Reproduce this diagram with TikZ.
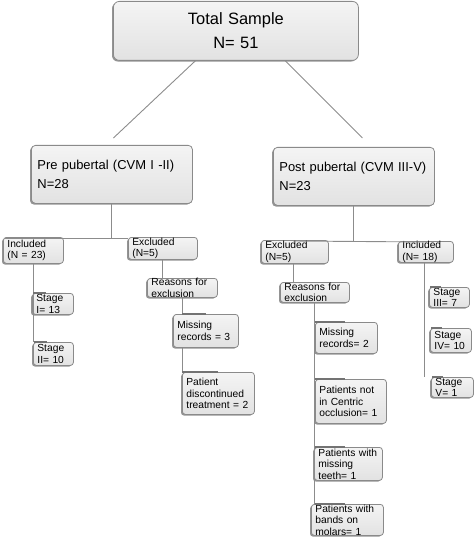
\documentclass[tikz,border=0pt]{standalone}
\usepackage{fontspec}
\setmainfont{Liberation Sans}
\usetikzlibrary{shadows}
\definecolor{boxtop}{HTML}{F4F4F4}
\definecolor{boxfill}{HTML}{E2E2E2}
\definecolor{boxline}{HTML}{8A8A8A}
\definecolor{wire}{HTML}{8C8C8C}
\begin{document}
\begin{tikzpicture}[x=1bp,y=-1bp,
		box/.style={draw=boxline, top color=boxtop, bottom color=boxfill, rounded corners=3bp, anchor=north west, align=left, inner xsep=4bp, inner ysep=0pt, line width=0.8bp, drop shadow={shadow xshift=-1.4bp, shadow yshift=-1.2bp, opacity=0.6, fill=black!70}},
		small/.style={box, font=\fontsize{10.3}{11.5}\selectfont},
		mid/.style={box, rounded corners=4bp, inner xsep=6bp, font=\fontsize{13}{19}\selectfont},
		wire/.style={draw=wire, line width=0.9bp},
		tip/.style={draw=black!55, line width=1.2bp}]
	\useasboundingbox (0,0) rectangle (474,539);
	\node[box, rounded corners=6bp, align=center, text width=237bp, minimum height=59bp, font=\fontsize{16.5}{24}\selectfont] (total) at (113,1) {Total Sample\\N= 51};
	\node[mid, text width=149bp, minimum height=58bp] (pre) at (31,145) {Pre pubertal (CVM I -II)\\N=28};
	\node[mid, text width=149bp, minimum height=58bp] (post) at (273,147) {Post pubertal (CVM III-V)\\N=23};
	\draw[wire] ([xshift=-40.5bp]total.south) -- ([xshift=1.5bp,yshift=7bp]pre.north);
	\draw[wire] ([xshift=49.5bp]total.south) -- ([xshift=8.5bp,yshift=9bp]post.north);

	\node[small, text width=52bp, minimum height=26bp] (inc1) at (3,237) {Included\\(N = 23)};
	\node[small, text width=61bp, minimum height=22bp] (exc1) at (128,237) {Excluded\\(N=5)};
	\node[small, text width=33bp, minimum height=21bp] (st1) at (32,293) {Stage\\I= 13};
	\node[small, text width=32bp, minimum height=23bp] (st2) at (33,342) {Stage\\II= 10};
	\node[small, text width=62bp, minimum height=19bp] (rea1) at (147,278) {Reasons for\\exclusion};
	\node[small, text width=57bp, minimum height=33bp] (mis1) at (173,314) {Missing\\records = 3};
	\node[small, text width=64bp, minimum height=42bp] (dis1) at (182,372) {Patient\\discontinued\\treatment = 2};

	\node[small, text width=59bp, minimum height=23bp] (exc2) at (261,240) {Excluded\\(N=5)};
	\node[small, text width=47bp, minimum height=18bp] (inc2) at (398,241) {Included\\(N= 18)};
	\node[small, text width=61bp, minimum height=20bp] (rea2) at (280,282) {Reasons for\\exclusion};
	\node[small, text width=54bp, minimum height=31bp] (mis2) at (315,322) {Missing\\records= 2};
	\node[small, text width=63bp, minimum height=44bp] (cen2) at (315,379) {Patients not\\in Centric\\occlusion= 1};
	\node[small, text width=60bp, minimum height=33bp] (tee2) at (314,447) {Patients with\\missing\\teeth= 1};
	\node[small, text width=64bp, minimum height=31bp] (mol2) at (311,504) {Patients with\\bands on\\molars= 1};
	\node[small, text width=32bp, minimum height=20bp] (st3) at (429,287) {Stage\\III= 7};
	\node[small, text width=33bp, minimum height=24bp] (st4) at (430,328) {Stage\\IV= 10};
	\node[small, text width=34bp, minimum height=20bp] (st5) at (431,377) {Stage\\V= 1};

	\draw[wire] (pre.south) -- ([yshift=-1bp]pre.south |- exc1.north);
	\draw[wire] ([xshift=2bp,yshift=-1bp]inc1.north west) -- ([yshift=-1bp]exc1.north west);
	\draw[wire] (post.south) -- ([yshift=-1bp]post.south |- exc2.north);
	\draw[wire] ([xshift=32bp,yshift=-1bp]exc2.north west) -- ([yshift=-1bp]inc2.north);

	\draw[wire] ([xshift=30bp]inc1.south west) -- ([xshift=30bp]inc1.south west |- st2.north);
	\foreach \s in {st1,st2}
		\draw[tip] ([xshift=1bp]\s.north west) -- ([xshift=14bp]\s.north west);
	\draw[wire] (exc1.south) -- (exc1.south |- rea1.north);
	\draw[wire] (rea1.south) -- (rea1.south |- mis1.north);
	\draw[wire] (rea1.south |- mis1.south) -- (rea1.south |- dis1.north);
	\draw[tip] (rea1.south |- mis1.north) -- ++(24,0);
	\draw[tip] (rea1.south |- dis1.north) -- ++(36,0);

	\draw[wire] ([xshift=32bp]exc2.south west) -- ([xshift=32bp]exc2.south west |- rea2.north);
	\draw[wire] (rea2.south) -- (rea2.south |- mol2.north);
	\foreach \s in {mis2,cen2,tee2,mol2}
		\draw[tip] (rea2.south |- \s.north) -- ++(30,0);
	\draw[wire] ([xshift=26bp]inc2.south west) -- ([xshift=26bp]inc2.south west |- st5.north);
	\foreach \s in {st3,st4,st5}
		\draw[tip] ([xshift=1bp]\s.north west) -- ([xshift=12bp]\s.north west);
\end{tikzpicture}
\end{document}
